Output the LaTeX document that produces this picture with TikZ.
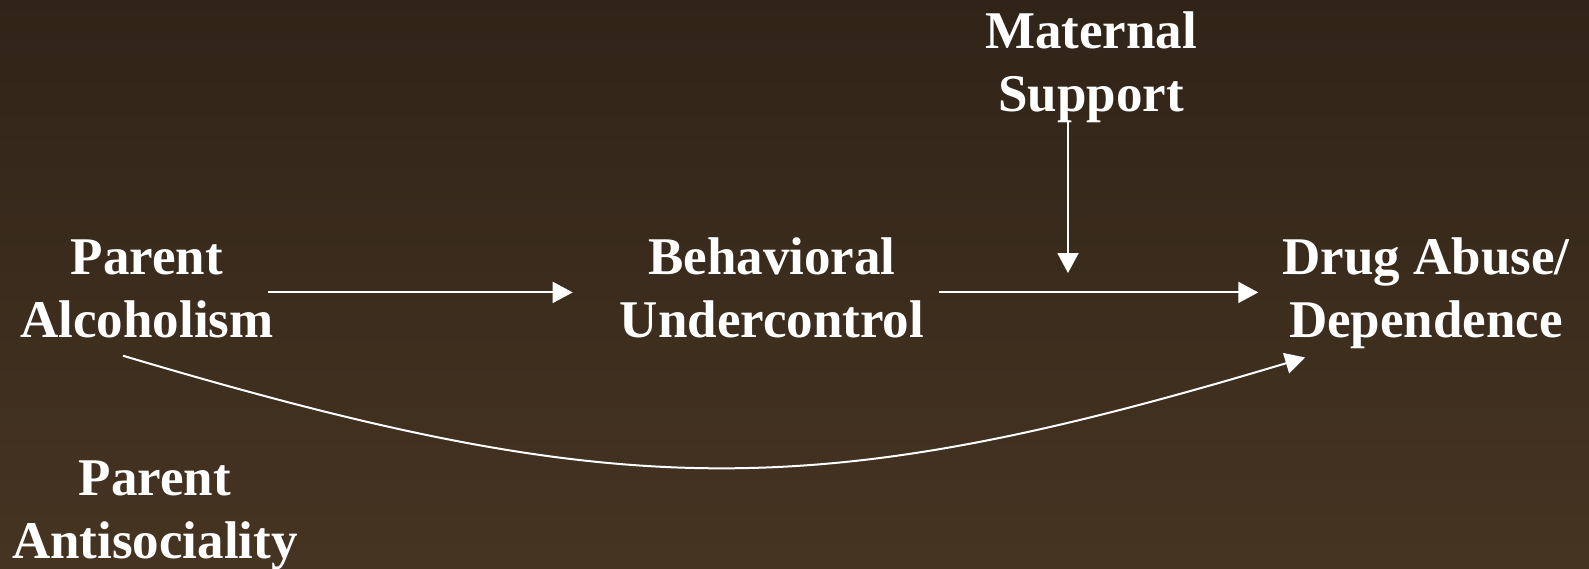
\documentclass[tikz,border=0pt]{standalone}
\usepackage{fontspec}
\setmainfont{Liberation Serif}
\usetikzlibrary{arrows.meta}
\definecolor{bgtop}{RGB}{48,36,24}
\definecolor{bgbot}{RGB}{70,52,34}
\begin{document}
\begin{tikzpicture}[x=1pt, y=-1pt,
    var/.style={text=white, align=center, inner sep=0pt, anchor=base,
                font=\fontsize{53}{63}\selectfont\bfseries},
    path/.style={draw=white, line width=2pt, -{Triangle[length=20pt,width=21pt]}}]
    \shade[top color=bgtop, bottom color=bgbot] (0,0) rectangle (1589,568);
    \useasboundingbox (0,0) rectangle (1589,568);

    \node[var] (pa) at (147,337) {Parent\\Alcoholism};
    \node[var] (bu) at (772,337) {Behavioral\\Undercontrol};
    \node[var] (dd) at (1426,337) {Drug Abuse/\\Dependence};
    \node[var] (ms) at (1091,111) {Maternal\\Support};
    \node[var] (pas) at (155,558) {Parent\\Antisociality};

    \coordinate (lvl) at ([yshift=-4pt]pa.east);
    \coordinate (mod) at (1068,273);

    \draw [path] ([xshift=-6pt]lvl) -- ([xshift=-47pt]bu.west |- lvl);
    \draw [path] ([xshift=15pt]bu.east |- lvl) -- ([xshift=-24pt]dd.west |- lvl);
    \draw [path] (mod |- ms.south) -- (mod);
    \draw [path] ([xshift=-24pt,yshift=-18pt]pa.south)
        .. controls +(500,149) and +(-490,147) .. ([xshift=23pt,yshift=-9pt]dd.south west);
\end{tikzpicture}
\end{document}
